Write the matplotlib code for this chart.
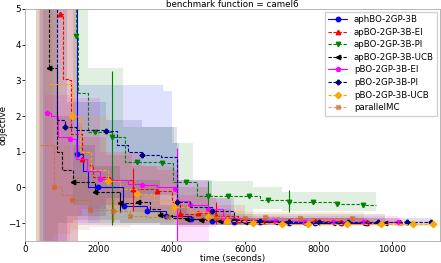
import numpy as np
import matplotlib
matplotlib.use("Agg")
import matplotlib.pyplot as plt

# --- step curves (time in seconds, objective) ---
blue_t = [300, 1420, 1580, 1720, 2000, 2670, 2700, 3320, 3840, 4520, 5100, 5700, 6400, 7200, 7900, 8600, 9300]
blue_y = [9, 0.93, 0.45, 0.0, 0.0, -0.53, -0.53, -0.67, -0.80, -0.87, -0.95, -0.97, -0.98, -0.99, -1.0, -1.0, -1.0]
blue_mk = [1, 4, 6, 7, 8, 9, 10, 11, 12, 13, 14, 15, 16]

red_t = [950, 1040, 1180, 1250, 1550, 1700, 1850, 2320, 2930, 3590, 4000, 4220, 4710, 5200, 5800, 6500, 7200, 7900, 8600, 9300, 10200]
red_y = [4.85, 3.05, 3.0, 1.5, 0.81, 0.64, 0.3, 0.22, -0.03, -0.1, -0.4, -0.75, -0.72, -0.8, -0.9, -0.93, -0.95, -0.95, -0.96, -0.97, -0.97]
red_mk = [0, 4, 7, 8, 9, 11, 12, 13, 14, 15, 16, 17, 18, 19, 20]

green_t = [1360, 1400, 1440, 1720, 1900, 2370, 2720, 3050, 3740, 4030, 4380, 4690, 4990, 5530, 6100, 6400, 6620, 7200, 7850, 8500, 9200, 9560]
green_y = [9, 4.25, 2.65, 1.55, 1.55, 1.42, 0.7, 0.7, 0.69, 0.14, 0.14, -0.24, -0.24, -0.25, -0.25, -0.36, -0.36, -0.42, -0.42, -0.45, -0.5, -0.5]
green_mk = [1, 4, 5, 7, 8, 10, 12, 13, 14, 16, 17, 18, 19, 20]

black_t = [400, 650, 880, 1000, 1300, 1600, 1900, 2300, 2590, 3080, 3400, 3680, 4000, 4400, 4800, 5300, 6000, 6800, 7600, 8400, 9200, 9800]
black_y = [9, 3.35, 1.0, 0.5, 0.14, 0.14, -0.14, -0.14, -0.43, -0.42, -0.6, -0.78, -0.85, -0.87, -0.92, -0.95, -0.97, -0.98, -1.0, -1.0, -1.0, -1.0]
black_mk = [1, 4, 6, 8, 9, 11, 13, 14, 15, 16, 17, 18, 19, 20, 21]

mag_t = [600, 700, 900, 1230, 1400, 1700, 2040, 2400, 2800, 3180, 3600, 4090, 4150, 4500, 4990, 5400, 6000, 6800, 7600, 8400, 9200, 10150]
mag_y = [2.1, 2.0, 1.4, 1.37, 0.8, 0.45, 0.25, 0.2, 0.1, 0.06, 0.0, -0.03, -0.39, -0.5, -0.6, -0.85, -0.9, -0.95, -0.97, -0.98, -0.98, -0.98]
mag_mk = [0, 3, 6, 9, 11, 13, 14, 15, 16, 17, 18, 19, 20, 21]

navy_t = [450, 870, 1090, 1400, 2210, 2500, 2800, 3180, 3700, 4130, 4500, 5100, 5700, 6400, 7200, 8000, 8800, 9600, 10400, 11050]
navy_y = [9, 1.9, 1.70, 1.6, 1.57, 1.2, 1.0, 0.92, 0.85, -0.42, -0.55, -0.67, -0.9, -0.95, -0.97, -0.98, -0.98, -0.98, -0.98, -0.98]
navy_mk = [2, 4, 7, 9, 11, 12, 13, 14, 15, 16, 17, 18, 19]

orange_t = [650, 870, 1280, 1500, 1800, 2260, 2600, 3060, 3500, 4060, 4500, 4990, 5500, 6200, 7000, 7700, 8770, 9700, 10570, 11100]
orange_y = [2.9, 2.9, 2.0, 1.0, 0.5, 0.17, -0.05, -0.17, -0.35, -0.56, -0.7, -0.82, -0.95, -1.0, -1.02, -1.03, -1.03, -1.03, -1.03, -1.03]
orange_mk = [2, 5, 7, 9, 11, 12, 13, 14, 15, 16, 17, 18, 19]

mc_t = [400, 790, 1000, 1280, 1770, 2400, 2860, 3300, 3900, 4500, 5200, 6000, 6540, 7000, 7490, 8000, 8910, 9240]
mc_y = [1.2, 0.0, -0.2, -0.36, -0.64, -0.66, -0.8, -0.82, -0.84, -0.85, -0.86, -0.86, -0.84, -0.86, -0.86, -0.86, -0.86, -0.86]
mc_mk = [1, 3, 4, 5, 6, 8, 10, 11, 12, 14, 16]

# --- spread bands ---
blue_bt = [500, 1450, 2780, 3750, 4000, 4200, 5000, 5600, 9300]
blue_lo = [-2, -1.05, -1.05, -1.05, -1.05, -1.05, -1.05, -1.05, -1.08]
blue_hi = [9, 2.87, 2.87, 2.7, 1.25, 0.0, -0.6, -0.85, -0.9]

red_bt = [380, 1450, 1550, 2200, 2900, 3600, 4200, 5200, 6000, 10200]
red_lo = [-1.6, -0.8, -0.6, -0.5, -0.7, -0.8, -1.1, -1.05, -1.03, -1.03]
red_hi = [9, 1.8, 1.4, 0.9, 0.6, 0.5, -0.2, -0.5, -0.85, -0.88]

green_bt = [1300, 1720, 2670, 4060, 4580, 6200, 7000, 9560]
green_lo = [-0.5, -1.0, -1.0, -0.9, -0.9, -0.6, -0.67, -0.67]
green_hi = [9, 3.35, 1.7, 1.25, 0.17, 0.0, -0.14, -0.14]

black_bt = [300, 900, 1300, 1900, 2600, 3680, 4400, 9800]
black_lo = [-1.6, -1.0, -0.9, -0.9, -1.0, -1.05, -1.05, -1.08]
black_hi = [9, 2.0, 1.2, 0.6, 0.2, -0.5, -0.75, -0.9]

mag_bt = [550, 1230, 2040, 3180, 4090, 4150, 5000, 5600, 10150]
mag_lo = [-1.8, -1.0, -0.5, -0.6, -0.9, -1.7, -1.0, -1.0, -1.05]
mag_hi = [2.6, 2.5, 1.0, 0.6, 0.5, 0.2, -0.3, -0.8, -0.88]

navy_bt = [420, 1150, 2210, 3180, 4130, 5100, 5700, 11050]
navy_lo = [-2, -0.8, -0.3, -0.2, -1.05, -1.05, -1.05, -1.05]
navy_hi = [9, 2.4, 1.9, 1.7, 0.2, -0.3, -0.85, -0.9]

orange_bt = [560, 1450, 2260, 3060, 4060, 5000, 5500, 11300]
orange_lo = [-1.5, -0.5, -0.7, -0.9, -1.0, -1.05, -1.08, -1.08]
orange_hi = [9, 2.0, 1.0, 0.6, 0.0, -0.6, -0.9, -0.95]

mc_bt = [300, 770, 1250, 1770, 2860, 4500, 6000, 9240]
mc_lo = [-1.6, -1.3, -1.2, -1.1, -1.05, -1.0, -1.0, -1.0]
mc_hi = [9, 1.2, 0.3, -0.2, -0.55, -0.65, -0.7, -0.7]

# --- error bars (time, mean, low, high) ---
green_err = [(2370, 1.42, -1.05, 3.25), (4990, -0.24, -0.67, 0.17), (7200, -0.42, -0.7, -0.08)]
red_err = [(2930, -0.03, -0.67, 0.55), (5200, -0.8, -1.03, -0.42)]
mag_err = [(4150, -0.39, -1.6, 1.1)]
black_err = [(2590, -0.43, -0.7, -0.14)]
mc_err = [(2400, -0.66, -0.98, -0.33)]

series = [
    ("aphBO-2GP-3B", "blue", "o", "-", blue_t, blue_y, blue_mk, blue_bt, blue_lo, blue_hi, []),
    ("apBO-2GP-3B-EI", "red", "^", "--", red_t, red_y, red_mk, red_bt, red_lo, red_hi, red_err),
    ("apBO-2GP-3B-PI", "green", "v", "--", green_t, green_y, green_mk, green_bt, green_lo, green_hi, green_err),
    ("apBO-2GP-3B-UCB", "black", "<", "--", black_t, black_y, black_mk, black_bt, black_lo, black_hi, black_err),
    ("pBO-2GP-3B-EI", "magenta", "p", "-", mag_t, mag_y, mag_mk, mag_bt, mag_lo, mag_hi, mag_err),
    ("pBO-2GP-3B-PI", "navy", "P", "--", navy_t, navy_y, navy_mk, navy_bt, navy_lo, navy_hi, []),
    ("pBO-2GP-3B-UCB", "orange", "D", "--", orange_t, orange_y, orange_mk, orange_bt, orange_lo, orange_hi, []),
    ("parallelMC", "chocolate", "X", "--", mc_t, mc_y, mc_mk, mc_bt, mc_lo, mc_hi, mc_err),
]

plt.rcParams["font.size"] = 6.3
fig = plt.figure(figsize=(4.41, 2.63), dpi=100)
ax = fig.add_axes([25 / 441, 1 - 241 / 263, 415 / 441, 232 / 263])

for name, col, mk, ls, t, y, mkidx, bt, lo, hi, errs in series:
    ax.fill_between(bt, lo, hi, step="post", color=col, alpha=0.12, linewidth=0)
    ax.plot(t, y, drawstyle="steps-post", color=col, linestyle=ls, linewidth=0.8,
            dashes=(3, 1.5) if ls == "--" else (None, None),
            marker=mk, markersize=3.2, markevery=mkidx, label=name,
            alpha=0.6 if name == "parallelMC" else 1.0)
    for et, ey, elo, ehi in errs:
        ax.errorbar([et], [ey], yerr=[[ey - elo], [ehi - ey]], fmt="none",
                    ecolor=col, elinewidth=0.8, capsize=0)

ax.set_xlim(0, 11300)
ax.set_ylim(-1.5, 5)
ax.set_xticks([0, 2000, 4000, 6000, 8000, 10000])
ax.set_yticks([-1, 0, 1, 2, 3, 4, 5])
ax.tick_params(length=2, width=0.6, pad=1)
for s in ax.spines.values():
    s.set_linewidth(0.6)
    s.set_color("#aaaaaa")
ax.set_xlabel("time (seconds)", labelpad=0)
ax.set_ylabel("objective", labelpad=0)
ax.set_title("benchmark function = camel6", fontsize=6.3, pad=1.5)
ax.legend(loc="upper right", fontsize=6.2, borderaxespad=0.3, labelspacing=0.42,
          handlelength=2.2, framealpha=0.9, edgecolor="#cccccc", fancybox=False)

fig.savefig("out.png", dpi=100)
